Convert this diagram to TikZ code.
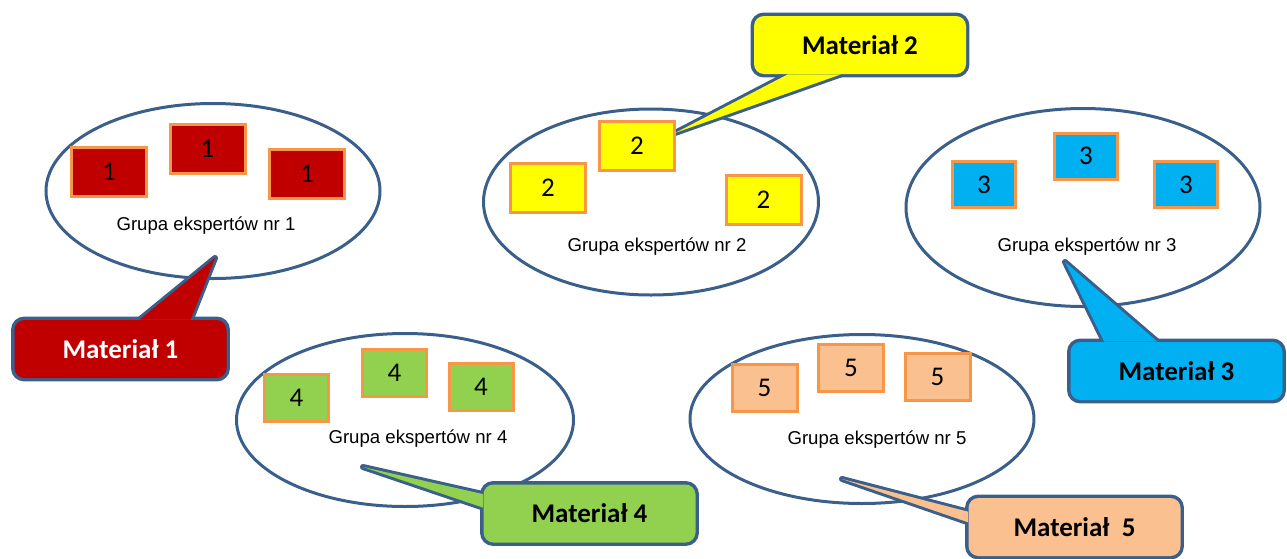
\documentclass[tikz,border=0pt]{standalone}
\usepackage{fontspec}
\setmainfont{Carlito}
\newfontfamily\grpfont{Liberation Sans}
\usetikzlibrary{calc,shapes.geometric}
\pgfdeclarelayer{edge}
\pgfsetlayers{edge,main}
\definecolor{rim}{HTML}{3A5F8B}
\definecolor{cardrim}{HTML}{F79646}
\definecolor{matred}{HTML}{C00000}
\definecolor{matyellow}{HTML}{FFFF00}
\definecolor{matblue}{HTML}{00B0F0}
\definecolor{matgreen}{HTML}{92D050}
\definecolor{matpeach}{HTML}{FAC090}

\begin{document}
\begin{tikzpicture}[x=0.5pt,y=-0.5pt,
    grp/.style={ellipse,draw=rim,line width=1.5pt,inner sep=0pt},
    card/.style={rectangle,draw=cardrim,line width=1.5pt,inner sep=0pt,font=\fontsize{13.5}{14}\selectfont},
    grptext/.style={font=\grpfont\fontsize{9.3}{10}\selectfont},
    mat/.style={rectangle,rounded corners=5pt,minimum width=106pt,minimum height=29pt,inner sep=0pt,font=\bfseries\fontsize{13.5}{14}\selectfont},
    rimline/.style={draw=rim,line width=3pt,line join=round}]
    \useasboundingbox (0,0) rectangle (1287,558);

    % groups of experts
    \node (g1) [grp,minimum width=167pt,minimum height=87.5pt] at (213,191) {};
    \node (g2) [grp,minimum width=167.5pt,minimum height=93pt] at (651,202) {};
    \node (g3) [grp,minimum width=177pt,minimum height=99pt] at (1083,207.5) {};
    \node (g4) [grp,minimum width=168.5pt,minimum height=86.5pt] at (405,420) {};
    \node (g5) [grp,minimum width=172pt,minimum height=84.5pt] at (862,419) {};

    \node (l1) [grptext] at (206,226) {Grupa ekspertów nr 1};
    \node (l2) [grptext] at (657,247) {Grupa ekspertów nr 2};
    \node (l3) [grptext] at (1087,247) {Grupa ekspertów nr 3};
    \node (l4) [grptext] at (418,439) {Grupa ekspertów nr 4};
    \node (l5) [grptext] at (877,440) {Grupa ekspertów nr 5};

    % cards
    \foreach \i/\x/\y in {a/109/172,b/207.5/148.5,c/307/173.5}{
        \node (c1\i) [card,fill=matred,minimum width=37.5pt,minimum height=24.5pt] at (\x,\y) {1};
    }
    \foreach \i/\x/\y in {a/548/188,b/637/145.5,c/763.5/199.5}{
        \node (c2\i) [card,fill=matyellow,minimum width=37.5pt,minimum height=24.5pt] at (\x,\y) {2};
    }
    \foreach \i/\x/\y in {a/984/184.5,b/1086/156,c/1186/184.5}{
        \node (c3\i) [card,fill=matblue,minimum width=31.5pt,minimum height=23pt] at (\x,\y) {3};
    }
    \foreach \i/\x/\y in {a/296.5/397.5,b/394.5/373,c/481/387}{
        \node (c4\i) [card,fill=matgreen,minimum width=32pt,minimum height=23.5pt] at (\x,\y) {4};
    }
    \foreach \i/\x/\y in {a/764.5/387.5,b/851/367.5,c/937.5/376.5}{
        \node (c5\i) [card,fill=matpeach,minimum width=32.5pt,minimum height=23.5pt] at (\x,\y) {5};
    }

    % callouts
    \node (m1) [mat,fill=matred,text=white] at (120.5,349) {Materiał 1};
    \coordinate (t1) at (215,258);
    \fill[matred] ($(m1.north west)!.59!(m1.north east)$) -- (t1) -- ($(m1.north west)!.83!(m1.north east)$) -- cycle;
    \begin{pgfonlayer}{edge}
        \draw[rimline,rounded corners=5pt] (m1.south west) rectangle (m1.north east);
        \draw[rimline] ($(m1.north west)!.59!(m1.north east)$) -- (t1) -- ($(m1.north west)!.83!(m1.north east)$) -- cycle;
    \end{pgfonlayer}

    \node (m2) [mat,fill=matyellow] at (860,45) {Materiał 2};
    \coordinate (t2) at (675,133);
    \fill[matyellow] ($(m2.south west)!.16!(m2.south east)$) -- (t2) -- ($(m2.south west)!.41!(m2.south east)$) -- cycle;
    \begin{pgfonlayer}{edge}
        \draw[rimline,rounded corners=5pt] (m2.south west) rectangle (m2.north east);
        \draw[rimline] ($(m2.south west)!.16!(m2.south east)$) -- (t2) -- ($(m2.south west)!.41!(m2.south east)$) -- cycle;
    \end{pgfonlayer}

    \node (m3) [mat,fill=matblue] at (1176.5,371) {Materiał 3};
    \coordinate (t3) at (1065,262);
    \fill[matblue] ($(m3.north west)!.16!(m3.north east)$) -- (t3) -- ($(m3.north west)!.41!(m3.north east)$) -- cycle;
    \begin{pgfonlayer}{edge}
        \draw[rimline,rounded corners=5pt] (m3.south west) rectangle (m3.north east);
        \draw[rimline] ($(m3.north west)!.16!(m3.north east)$) -- (t3) -- ($(m3.north west)!.41!(m3.north east)$) -- cycle;
    \end{pgfonlayer}

    \node (m4) [mat,fill=matgreen] at (589.5,513.5) {Materiał 4};
    \coordinate (t4) at (363,467);
    \fill[matgreen] ($(m4.north west)!.17!(m4.south west)$) -- (t4) -- ($(m4.north west)!.40!(m4.south west)$) -- cycle;
    \begin{pgfonlayer}{edge}
        \draw[rimline,rounded corners=5pt] (m4.south west) rectangle (m4.north east);
        \draw[rimline] ($(m4.north west)!.17!(m4.south west)$) -- (t4) -- ($(m4.north west)!.40!(m4.south west)$) -- cycle;
    \end{pgfonlayer}

    \node (m5) [mat,fill=matpeach] at (1074.5,527) {Materiał\ \ 5};
    \coordinate (t5) at (842,479);
    \fill[matpeach] ($(m5.north west)!.24!(m5.south west)$) -- (t5) -- ($(m5.north west)!.42!(m5.south west)$) -- cycle;
    \begin{pgfonlayer}{edge}
        \draw[rimline,rounded corners=5pt] (m5.south west) rectangle (m5.north east);
        \draw[rimline] ($(m5.north west)!.24!(m5.south west)$) -- (t5) -- ($(m5.north west)!.42!(m5.south west)$) -- cycle;
    \end{pgfonlayer}
\end{tikzpicture}
\end{document}
